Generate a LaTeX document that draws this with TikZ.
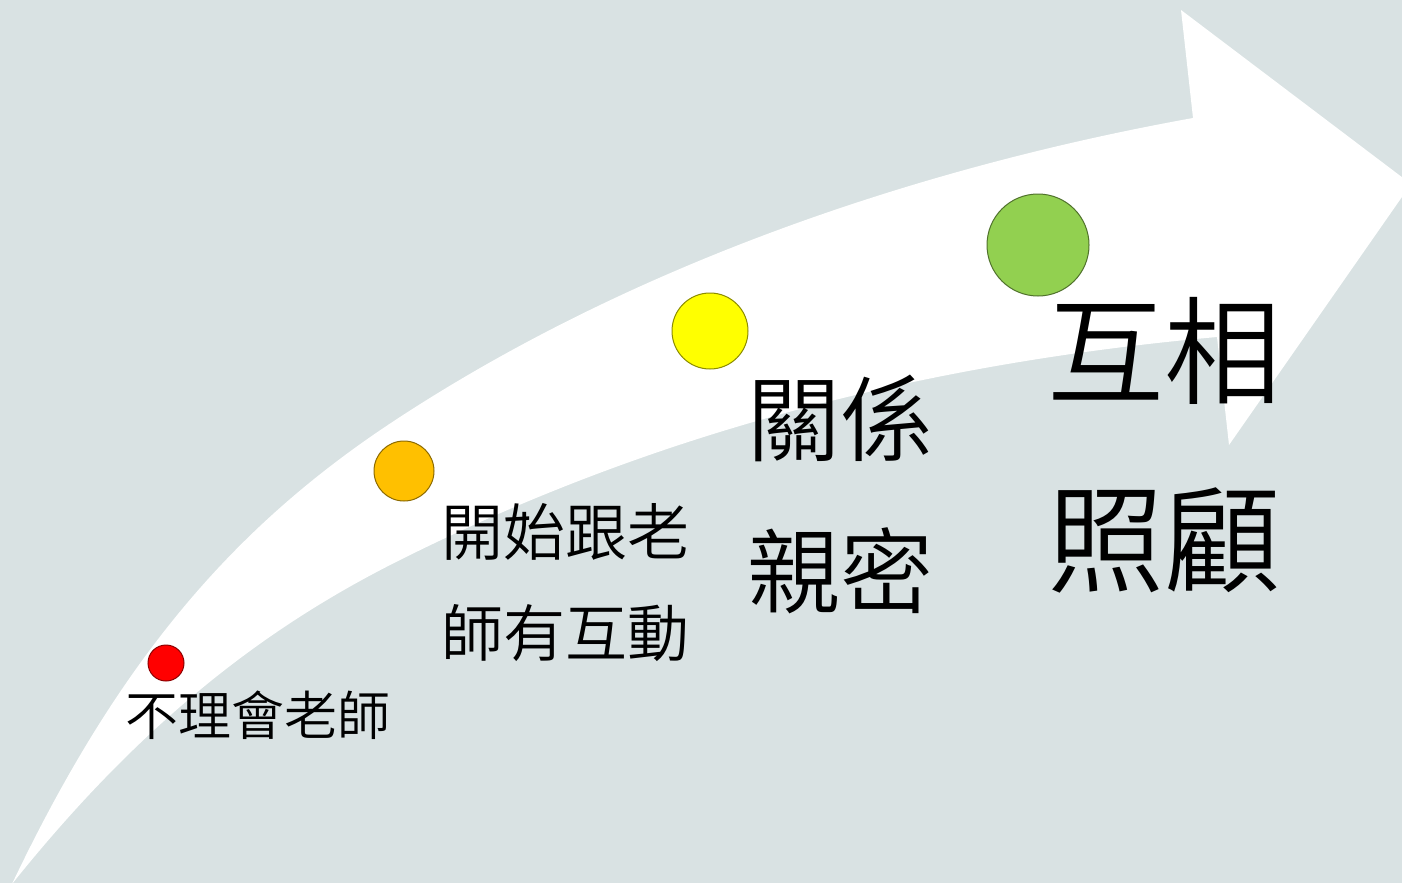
\documentclass[tikz,border=0pt]{standalone}
\usepackage{fontspec}
\newfontfamily\cjk{Noto Sans CJK TC DemiLight}
\usetikzlibrary{positioning}
\definecolor{hinter}{RGB}{217,226,227}
\definecolor{goldgelb}{RGB}{255,192,0}
\definecolor{hellgruen}{RGB}{146,208,80}
\definecolor{reingelb}{RGB}{255,255,0}
\tikzset{
	punkt/.style={
		circle,
		fill=#1,
		draw=#1!55!black, line width=0.5pt,
		inner sep=0pt},
	stufe/.style={
		anchor=north west,
		inner sep=0pt,
		align=left,
		text=black},
}
\begin{document}
\begin{tikzpicture}
	[x=0.5pt, y=-0.5pt, font=\cjk]
	\clip (0,0) rectangle (1402,883);
	\fill[hinter] (0,0) rectangle (1402,883);
	% weisser Pfeil
	\fill[white] (12,884) .. controls (122,653) and (240,521) .. (400,417)
		.. controls (650,254) and (943,163) .. (1193,118)
		-- (1181,10) -- (1411,184) -- (1229,445) -- (1217,337)
		.. controls (917,364) and (650,435) .. (400,560)
		.. controls (280,620) and (152,709) .. (12,884) -- cycle;
	% Punkte
	\node[punkt=red, minimum size=18pt] (rot) at (166,663) {};
	\node[punkt=goldgelb, minimum size=30pt] (orange) at (404,471) {};
	\node[punkt=reingelb, minimum size=38pt] (gelb) at (710,331) {};
	\node[punkt=hellgruen, minimum size=51pt] (gruen) at (1038,245) {};
	% Texte
	\node[stufe, font=\cjk\fontsize{26.5}{26.5}\selectfont] (nicht) at (125,690) {不理會老師};
	\node[stufe, font=\cjk\fontsize{31}{50.5}\selectfont] (anfang) at (441,503) {開始跟老\\師有互動};
	\node[stufe, font=\cjk\fontsize{46.5}{76}\selectfont] (nah) at (747,375) {關係\\親密};
	\node[stufe, font=\cjk\fontsize{58.5}{94}\selectfont] (pflege) at (1047,297) {互相\\照顧};
\end{tikzpicture}
\end{document}
